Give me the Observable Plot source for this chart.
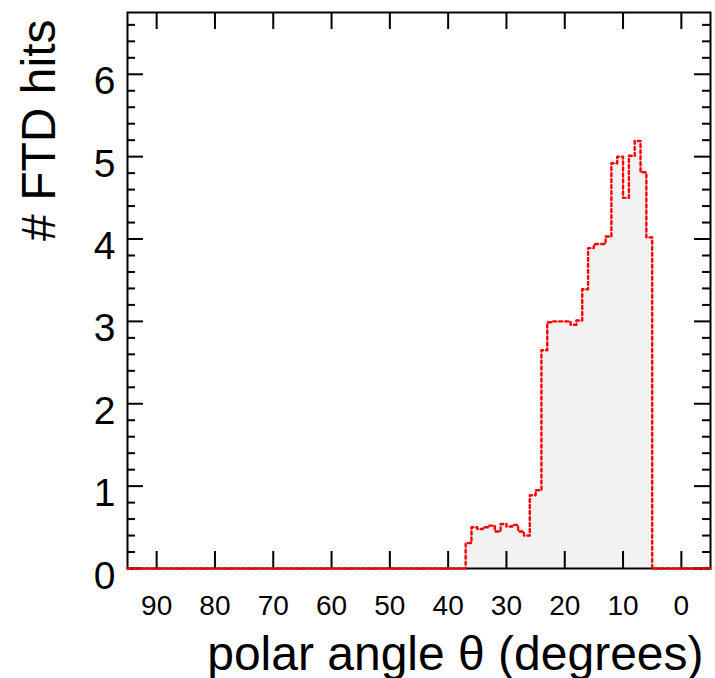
<!DOCTYPE html>
<html>
<head>
<meta charset="utf-8">
<script src="https://cdn.jsdelivr.net/npm/d3@7"></script>
<script src="https://cdn.jsdelivr.net/npm/@observablehq/plot@0.6"></script>
<style>
  html, body { margin: 0; padding: 0; background: #fff; }
  #chart svg { display: block; }
</style>
</head>
<body>
<div id="chart"></div>
<script>
// ---- data (1-degree bins, lower edge in degrees) ----
const binLowEdge = [36, 35, 34, 33, 32, 31, 30, 29, 28, 27, 26, 25, 24, 23, 22, 21,
                    20, 19, 18, 17, 16, 15, 14, 13, 12, 11, 10, 9, 8, 7, 6, 5];
const binWidth = 1;
const hits = [0.31, 0.50, 0.48, 0.50, 0.52, 0.45, 0.54, 0.51, 0.53, 0.45, 0.40, 0.89,
              0.95, 2.65, 2.99, 3.00, 3.00, 3.00, 2.96, 3.01, 3.39, 3.89, 3.94, 3.94,
              4.03, 4.92, 5.00, 4.50, 5.01, 5.19, 4.81, 4.02];

// ---- axes ----
const xDomain = [95, -5];
const yDomain = [0, 6.75];
const xTicks = [90, 80, 70, 60, 50, 40, 30, 20, 10, 0];
const yTicks = [0, 1, 2, 3, 4, 5, 6];
const yMinorTicks = [0.2, 0.4, 0.6, 0.8, 1.2, 1.4, 1.6, 1.8, 2.2, 2.4, 2.6, 2.8,
                     3.2, 3.4, 3.6, 3.8, 4.2, 4.4, 4.6, 4.8, 5.2, 5.4, 5.6, 5.8,
                     6.2, 6.4, 6.6];
const xTitle = "polar angle θ (degrees)";
const yTitle = "# FTD hits";

// ---- layout ----
const W = 715, H = 678;
const mL = 127, mR = 5, mT = 12, mB = 110;
const plotW = W - mL - mR, plotH = H - mT - mB;

// step outline points built from the bins
const stepX = [xDomain[0], ...binLowEdge.map(d => d + binWidth), binLowEdge[binLowEdge.length - 1], xDomain[1]];
const stepY = [0, ...hits, 0, 0];
const pts = stepX.map((x, i) => ({x, y: stepY[i]}));

const tickStroke = {stroke: "black", strokeWidth: 2};

const chart = Plot.plot({
  width: W,
  height: H,
  marginLeft: mL,
  marginRight: mR,
  marginTop: mT,
  marginBottom: mB,
  style: {fontFamily: "'Liberation Sans', Arial, Helvetica, sans-serif", background: "#fff"},
  x: {type: "linear", domain: xDomain, axis: null},
  y: {type: "linear", domain: yDomain, axis: null},
  marks: [
    Plot.areaY(pts, {x: "x", y: "y", curve: "step-after", fill: "#f2f2f2"}),
    // x ticks bottom & top
    Plot.ruleX(xTicks, {x: d => d, insetTop: plotH - 17, ...tickStroke}),
    Plot.ruleX(xTicks, {x: d => d, insetBottom: plotH - 17, ...tickStroke}),
    // y major ticks left & right
    Plot.ruleY(yTicks, {y: d => d, insetRight: plotW - 16, ...tickStroke}),
    Plot.ruleY(yTicks, {y: d => d, insetLeft: plotW - 16, ...tickStroke}),
    // y minor ticks left & right
    Plot.ruleY(yMinorTicks, {y: d => d, insetRight: plotW - 8, ...tickStroke}),
    Plot.ruleY(yMinorTicks, {y: d => d, insetLeft: plotW - 8, ...tickStroke}),
    Plot.frame({stroke: "black", strokeWidth: 2}),
    Plot.lineY(pts, {x: "x", y: "y", curve: "step-after", stroke: "#ff0000", strokeWidth: 2.4, strokeDasharray: "3,3"}),
    // tick labels
    Plot.text(xTicks, {x: d => d, frameAnchor: "bottom", lineAnchor: "bottom", dy: 46, fontSize: 28, textAnchor: "middle", text: d => String(d)}),
    Plot.text(yTicks, {y: d => d, frameAnchor: "left", lineAnchor: "bottom", dx: -12, dy: 20, fontSize: 39, textAnchor: "end", text: d => String(d)}),
    // axis titles
    Plot.text([xTitle], {frameAnchor: "bottom-right", lineAnchor: "bottom", textAnchor: "end", dx: -7, dy: 101, fontSize: 48}),
    Plot.text([yTitle], {frameAnchor: "top-left", lineAnchor: "bottom", textAnchor: "end", rotate: -90, dx: -73, dy: 7, fontSize: 48})
  ]
});

document.getElementById("chart").appendChild(chart);
</script>
</body>
</html>
